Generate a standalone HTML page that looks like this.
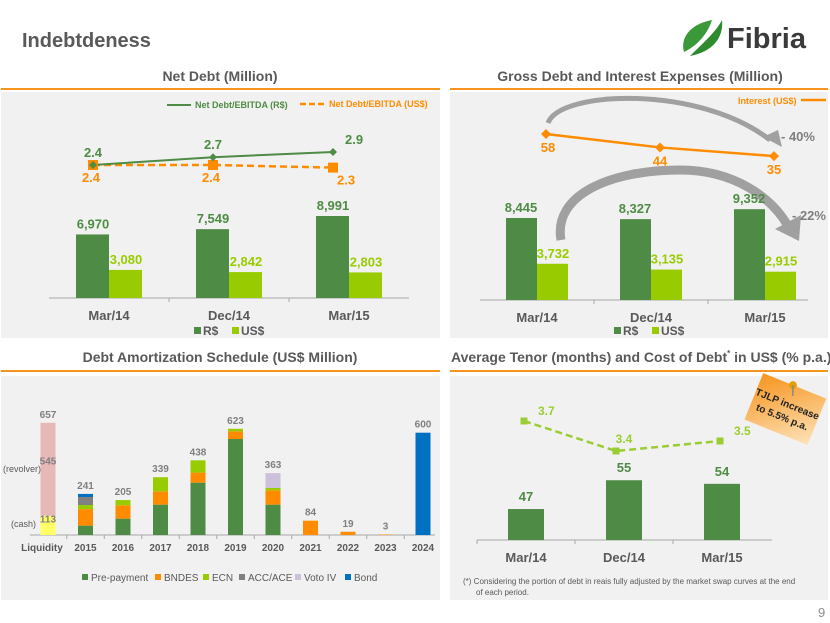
<!DOCTYPE html>
<html><head><meta charset="utf-8"><style>
html,body{margin:0;padding:0;background:#fff;}
svg{display:block;font-family:"Liberation Sans",sans-serif;}
</style></head><body>
<svg id="s" width="830" height="623" viewBox="0 0 830 623" xmlns="http://www.w3.org/2000/svg">
<rect x="0" y="0" width="830" height="623" fill="#fff"/>
<text x="22" y="47" font-size="20" font-weight="bold" fill="#595959">Indebtdeness</text>
<g>
<path d="M684 52 C680 38 690 24 712 20 C708 32 700 44 684 52 Z" fill="#3a9a3a"/>
<path d="M690 56 C702 44 716 32 722 20 C724 38 712 52 690 56 Z" fill="#2e8b2e"/>
<text x="727" y="48" font-size="29" font-weight="bold" fill="#3a3a3a">Fibria</text>
</g>
<text x="220" y="81" text-anchor="middle" font-size="14" font-weight="bold" fill="#595959">Net Debt (Million)</text>
<text x="640" y="81" text-anchor="middle" font-size="14" font-weight="bold" fill="#595959">Gross Debt and Interest Expenses (Million)</text>
<text x="220" y="362" text-anchor="middle" font-size="14" font-weight="bold" fill="#595959">Debt Amortization Schedule (US$ Million)</text>
<text x="451" y="362" font-size="14" font-weight="bold" fill="#595959">Average Tenor (months) and Cost of Debt<tspan font-size="8" dy="-6">*</tspan><tspan dy="6"> in US$ (% p.a.)</tspan></text>
<line x1="1" y1="89" x2="440" y2="89" stroke="#f7941d" stroke-width="2"/>
<line x1="450" y1="89" x2="828" y2="89" stroke="#f7941d" stroke-width="2"/>
<line x1="1" y1="371" x2="440" y2="371" stroke="#f7941d" stroke-width="2"/>
<line x1="450" y1="371" x2="828" y2="371" stroke="#f7941d" stroke-width="2"/>
<rect x="1" y="92" width="439" height="246" fill="#f1f1f1"/>
<rect x="450" y="92" width="378" height="246" fill="#f1f1f1"/>
<rect x="1" y="376" width="439" height="224" fill="#f1f1f1"/>
<rect x="450" y="376" width="378" height="224" fill="#f1f1f1"/>
<text x="463" y="584" font-size="8" fill="#595959">(*) Considering the portion of debt in reais fully adjusted by the market swap curves at the end</text>
<text x="476" y="595" font-size="8" fill="#595959">of each period.</text>
<text x="818" y="617" font-size="13" fill="#8c8c8c">9</text>
</svg>
<script>
// ---- data ----
const periods = ["Mar/14","Dec/14","Mar/15"];
const netDebtRS = [6970,7549,8991];
const netDebtUS = [3080,2842,2803];
const netRatioRS = [2.4,2.7,2.9];
const netRatioUS = [2.4,2.4,2.3];
const grossDebtRS = [8445,8327,9352];
const grossDebtUS = [3732,3135,2915];
const interestUS = [58,44,35];
const amortCats = ["Liquidity","2015","2016","2017","2018","2019","2020","2021","2022","2023","2024"];
const cashVals = [113,0,0,0,0,0,0,0,0,0,0];
const revolverVals = [545,0,0,0,0,0,0,0,0,0,0];
const prepayVals = [0,55,96,178,307,563,178,0,0,0,0];
const bndesVals = [0,97,78,78,59,45,84,84,19,3,0];
const ecnVals = [0,24,31,83,72,15,14,0,0,0,0];
const accVals = [0,47,0,0,0,0,0,0,0,0,0];
const votoVals = [0,0,0,0,0,0,87,0,0,0,0];
const bondVals = [0,18,0,0,0,0,0,0,0,0,600];
const amortTotals = ["657","241","205","339","438","623","363","84","19","3","600"];
const tenorMonths = [47,55,54];
const costDebt = [3.7,3.4,3.5];

const G="#4e8b44", LG="#99cc00", OR="#ff8c00", GR="#595959";
const S=document.getElementById('s');
const NS="http://www.w3.org/2000/svg";
function mk(tag,a,txt){const e=document.createElementNS(NS,tag);for(const k in a)e.setAttribute(k,a[k]);if(txt!==undefined)e.textContent=txt;S.appendChild(e);return e;}
function fmt(v){return v.toLocaleString('en-US');}

// ---- Panel 1: Net debt ----
const p1x = i => 109 + i*120;
const p1y = v => 298 - v*0.00912;
const p1ly = v => 165 - (v-2.4)*26;
let e;
e=mk('line',{x1:49,y1:298,x2:409,y2:298,stroke:"#a6a6a6"});


periods.forEach((p,i)=>{
  e=mk('rect',{x:p1x(i)-33,y:p1y(netDebtRS[i]),width:33,height:298-p1y(netDebtRS[i]),fill:G});
  
  
  e=mk('rect',{x:p1x(i),y:p1y(netDebtUS[i]),width:33,height:298-p1y(netDebtUS[i]),fill:LG});
  
  
  e=mk('text',{x:p1x(i)-16,y:p1y(netDebtRS[i])-6,'text-anchor':'middle','font-size':13,'font-weight':'bold',fill:G},fmt(netDebtRS[i]));
  
  
  e=mk('text',{x:p1x(i)+17,y:p1y(netDebtUS[i])-6,'text-anchor':'middle','font-size':13,'font-weight':'bold',fill:LG},fmt(netDebtUS[i]));
  
  
  e=mk('text',{x:p1x(i),y:320,'text-anchor':'middle','font-size':13,'font-weight':'bold',fill:GR},p);
  
  
  if(i>0){e=mk('line',{x1:p1x(i)-60,y1:298,x2:p1x(i)-60,y2:302,stroke:"#a6a6a6"});
  
  }
});
e=mk('polyline',{points:netRatioUS.map((v,i)=>`${p1x(i)-16},${p1ly(v)}`).join(' '),fill:'none',stroke:OR,'stroke-width':2.5,'stroke-dasharray':'7,4'});


e=mk('polyline',{points:netRatioRS.map((v,i)=>`${p1x(i)-16},${p1ly(v)}`).join(' '),fill:'none',stroke:G,'stroke-width':2});


periods.forEach((p,i)=>{
  const x=p1x(i)-16;
  e=mk('rect',{x:x-5,y:p1ly(netRatioUS[i])-5,width:10,height:10,fill:OR});
  
  
  e=mk('path',{d:`M${x} ${p1ly(netRatioRS[i])-4} l4 4 l-4 4 l-4 -4z`,fill:G});
  
  
  e=mk('text',{x:x+(i==2?12:0),y:p1ly(netRatioRS[i])-8,'text-anchor':i==2?'start':'middle','font-size':13,'font-weight':'bold',fill:G},netRatioRS[i].toFixed(1));
  
  
  e=mk('text',{x:x+(i==2?4:-2),y:p1ly(netRatioUS[i])+17,'text-anchor':i==2?'start':'middle','font-size':13,'font-weight':'bold',fill:OR},netRatioUS[i].toFixed(1));
  
  
});
e=mk('line',{x1:167,y1:105,x2:191,y2:105,stroke:G,'stroke-width':2});


e=mk('text',{x:195,y:108,'font-size':9,'font-weight':'bold',fill:G},'Net Debt/EBITDA (R$)');


e=mk('line',{x1:300,y1:104,x2:325,y2:104,stroke:OR,'stroke-width':2.5,'stroke-dasharray':'6,3'});


e=mk('text',{x:329,y:107,'font-size':9,'font-weight':'bold',fill:OR},'Net Debt/EBITDA (US$)');


function barLegend(x,y,pre){
  e=mk('rect',{x:x,y:y-8,width:7,height:7,fill:G});
  
  
  e=mk('text',{x:x+9,y:y,'font-size':12,'font-weight':'bold',fill:GR},'R$');
  
  
  e=mk('rect',{x:x+38,y:y-8,width:7,height:7,fill:LG});
  
  
  e=mk('text',{x:x+47,y:y,'font-size':12,'font-weight':'bold',fill:GR},'US$');
  
  
}
barLegend(194,335,'net-debt');

// ---- Panel 2: Gross debt ----
const p2x = i => 537 + i*114;
const p2y = v => 300 - v*0.00971;
const p2ly = v => 134 + (58-v)*0.96;
e=mk('line',{x1:480,y1:300,x2:808,y2:300,stroke:"#a6a6a6"});


e=mk('path',{d:'M548 123 C560 90 700 85 770 140',fill:'none',stroke:'#a0a0a0','stroke-width':5});


e=mk('path',{d:'M763 137 L782 147 L778 130 Z',fill:'#a0a0a0'});


e=mk('path',{d:'M561 240 C553 195 610 170 680 170 C735 170 772 198 788 226',fill:'none',stroke:'#a0a0a0','stroke-width':9});


e=mk('path',{d:'M775 229 L799 241 L801 215 Z',fill:'#a0a0a0'});


e=mk('text',{x:781,y:141,'font-size':13,'font-weight':'bold',fill:'#7f7f7f'},'- 40%');


e=mk('text',{x:792,y:220,'font-size':13,'font-weight':'bold',fill:'#7f7f7f'},'- 22%');


periods.forEach((p,i)=>{
  e=mk('rect',{x:p2x(i)-31,y:p2y(grossDebtRS[i]),width:31,height:300-p2y(grossDebtRS[i]),fill:G});
  
  
  e=mk('rect',{x:p2x(i),y:p2y(grossDebtUS[i]),width:31,height:300-p2y(grossDebtUS[i]),fill:LG});
  
  
  e=mk('text',{x:p2x(i)-16,y:p2y(grossDebtRS[i])-6,'text-anchor':'middle','font-size':13,'font-weight':'bold',fill:G},fmt(grossDebtRS[i]));
  
  
  e=mk('text',{x:p2x(i)+16,y:p2y(grossDebtUS[i])-6,'text-anchor':'middle','font-size':13,'font-weight':'bold',fill:LG},fmt(grossDebtUS[i]));
  
  
  e=mk('text',{x:p2x(i),y:322,'text-anchor':'middle','font-size':13,'font-weight':'bold',fill:GR},p);
  
  
  if(i>0){e=mk('line',{x1:p2x(i)-57,y1:300,x2:p2x(i)-57,y2:304,stroke:"#a6a6a6"});
  
  }
});
e=mk('polyline',{points:interestUS.map((v,i)=>`${p2x(i)+9},${p2ly(v)}`).join(' '),fill:'none',stroke:OR,'stroke-width':2.5});


interestUS.forEach((v,i)=>{
  const x=p2x(i)+9;
  e=mk('path',{d:`M${x} ${p2ly(v)-5} l5 5 l-5 5 l-5 -5z`,fill:OR});
  
  
  e=mk('text',{x:x+(i==0?2:0),y:p2ly(v)+18,'text-anchor':'middle','font-size':13,'font-weight':'bold',fill:OR},String(v));
  
  
});
e=mk('text',{x:738,y:104,'font-size':9,'font-weight':'bold',fill:OR},'Interest (US$)');


e=mk('line',{x1:801,y1:100,x2:826,y2:100,stroke:OR,'stroke-width':2.5});


barLegend(614,335,'gross-debt');

// ---- Panel 3: Amortization ----
const p3x = i => 48 + i*37.5;
const p3s = 0.1705;
const stacks = [[cashVals,'#ffff66','cash'],[revolverVals,'#e6b8b8','revolver'],[prepayVals,G,'prepayment'],[bndesVals,OR,'bndes'],[ecnVals,LG,'ecn'],[accVals,'#808080','acc-ace'],[votoVals,'#ccc0da','voto-iv'],[bondVals,'#0070c0','bond']];
e=mk('line',{x1:30,y1:535,x2:435,y2:535,stroke:"#a6a6a6"});


amortCats.forEach((c,i)=>{
  let base=535;
  stacks.forEach(([arr,col,nm])=>{
    const h=arr[i]*p3s;
    if(h>0){
      e=mk('rect',{x:p3x(i)-7.5,y:base-h,width:15,height:h,fill:col});
      
      
      base-=h;
    }
  });
  e=mk('text',{x:p3x(i),y:base-5,'text-anchor':'middle','font-size':10,'font-weight':'bold',fill:'#7f7f7f'},amortTotals[i]);
  
  
  e=mk('text',{x:p3x(i)+(i==0?-6:0),y:551,'text-anchor':'middle','font-size':10,'font-weight':'bold',fill:GR},c);
  
  
  if(i<10){e=mk('line',{x1:p3x(i)+18.75,y1:535,x2:p3x(i)+18.75,y2:539,stroke:"#a6a6a6"});
  
  }
});
e=mk('text',{x:p3x(0),y:535-cashVals[0]*p3s-revolverVals[0]*p3s/2-5,'text-anchor':'middle','font-size':10,'font-weight':'bold',fill:'#7f7f7f'},String(revolverVals[0]));


e=mk('text',{x:p3x(0),y:535-cashVals[0]*p3s/2-3,'text-anchor':'middle','font-size':10,'font-weight':'bold',fill:'#7f7f7f'},String(cashVals[0]));


e=mk('text',{x:3,y:472,'font-size':9,fill:GR},'(revolver)');


e=mk('text',{x:11,y:527,'font-size':9,fill:GR},'(cash)');


const legItems=[['Pre-payment',G,82],['BNDES',OR,155],['ECN',LG,203],['ACC/ACE','#808080',239],['Voto IV','#ccc0da',295],['Bond','#0070c0',345]];
legItems.forEach(([t,c,x])=>{
  e=mk('rect',{x:x,y:574,width:6,height:6,fill:c});
  
  
  e=mk('text',{x:x+9,y:581,'font-size':10,fill:GR},t);
  
  
});

// ---- Panel 4: Tenor ----
const p4x = i => 526 + i*98;
const p4y = v => 540 - (v-38.4)*3.6;
const p4ly = v => 421 + (3.7-v)*100;
e=mk('line',{x1:477,y1:540,x2:772,y2:540,stroke:"#a6a6a6"});


periods.forEach((p,i)=>{
  e=mk('rect',{x:p4x(i)-18,y:p4y(tenorMonths[i]),width:36,height:540-p4y(tenorMonths[i]),fill:G});
  
  
  e=mk('text',{x:p4x(i),y:p4y(tenorMonths[i])-8,'text-anchor':'middle','font-size':13,'font-weight':'bold',fill:G},String(tenorMonths[i]));
  
  
  e=mk('text',{x:p4x(i),y:562,'text-anchor':'middle','font-size':13,'font-weight':'bold',fill:GR},p);
  
  
  e=mk('line',{x1:p4x(i)-49,y1:540,x2:p4x(i)-49,y2:544,stroke:"#a6a6a6"});
  
  
});
e=mk('polyline',{points:costDebt.map((v,i)=>`${p4x(i)-2-(i==1?6:0)},${p4ly(v)}`).join(' '),fill:'none',stroke:'#9acd32','stroke-width':2.5,'stroke-dasharray':'7,4'});


costDebt.forEach((v,i)=>{
  const x=p4x(i)-2-(i==1?6:0);
  e=mk('rect',{x:x-3.5,y:p4ly(v)-3.5,width:7,height:7,fill:'#9acd32'});
  
  
  e=mk('text',{x:x+(i==1?8:14),y:p4ly(v)-(i==1?8:6),'text-anchor':i==1?'middle':'start','font-size':12,'font-weight':'bold',fill:'#9acd32'},v.toFixed(1));
  
  
});
const note=document.createElementNS(NS,'g');
note.setAttribute('transform','translate(785,410) rotate(22)');


S.appendChild(note);
note.innerHTML='<defs><linearGradient id="ng" x1="0" y1="0" x2="1" y2="1"><stop offset="0" stop-color="#f7941d"/><stop offset="1" stop-color="#fde2b8"/></linearGradient></defs><rect x="-34" y="-26" width="68" height="50" fill="url(#ng)"/><text x="0" y="-3" text-anchor="middle" font-size="10" font-weight="bold" fill="#222">TJLP increase</text><text x="0" y="11" text-anchor="middle" font-size="10" font-weight="bold" fill="#222">to 5.5% p.a.</text><circle cx="-2" cy="-26" r="4" fill="#e5a000"/><line x1="-2" y1="-26" x2="2" y2="-16" stroke="#888" stroke-width="1.5"/>';
</script>
</body></html>
